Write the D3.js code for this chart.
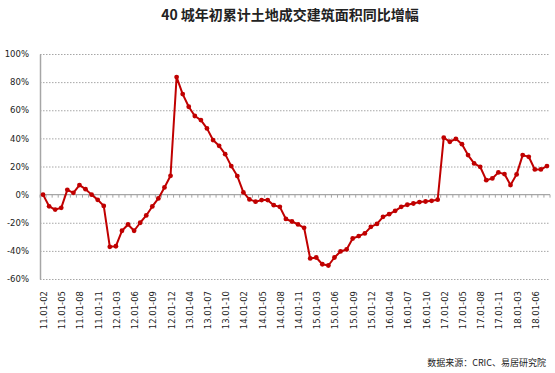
<!DOCTYPE html>
<html>
<head>
<meta charset="utf-8">
<script src="https://cdn.jsdelivr.net/npm/d3@7"></script>
<style>
  body { margin: 0; background: #fff; }
  svg { display: block; }
  .grid line { stroke: #a6a6a6; stroke-dasharray: 1.5 1.5; }
  text { font-family: "DejaVu Sans", Verdana, sans-serif; fill: #222; }
</style>
</head>
<body>
<svg id="svg" width="555" height="373"></svg>
<script>
// categories: 11 cumulative periods per year (01-02 .. 01-12), 2011 -> 2018.01-08
const years = ["11", "12", "13", "14", "15", "16", "17"];
const months = ["02", "03", "04", "05", "06", "07", "08", "09", "10", "11", "12"];
const lastYearMonths = ["02", "03", "04", "05", "06", "07", "08"];
const categories = years.flatMap(y => months.map(m => `${y}.01-${m}`))
  .concat(lastYearMonths.map(m => `18.01-${m}`));

// year-on-year change, %
const values = [
  0, -8.3, -10.6, -9.4, 3.4, 1.3, 6.8, 3.9, 0, -3.7, -8,
  -37.1, -36.7, -25.7, -21.2, -25.7, -20, -14.8, -8.4, -2.7, 5.1, 13.4,
  83.6, 71.5, 62.5, 55.9, 53, 47.1, 38.8, 34.7, 28.8, 20.3, 13.2,
  1.6, -3.4, -5, -3.9, -3.9, -7.5, -8.7, -17.3, -19.1, -21.2, -23.6,
  -45.4, -44.7, -49.5, -50.4, -44.7, -40.4, -39, -31.2, -29.5, -27.6, -22.9,
  -20.8, -15.8, -13.9, -11.5, -8.7, -7.2, -6.3, -5.3, -4.9, -4.4, -3.6,
  40.5, 37.6, 39.7, 35.9, 28.1, 22.2, 19.8, 10.3, 11.5, 15.8, 14.6,
  6.8, 14.4, 28.1, 26.9, 17.9, 17.9, 20.3
];

const yTicks = [-60, -40, -20, 0, 20, 40, 60, 80, 100];
const title = "40 城年初累计土地成交建筑面积同比增幅";
const source = "数据来源：CRIC、易居研究院";

const svg = d3.select("#svg");
const plotLeft = 40, plotRight = 550, plotTop = 54, plotBottom = 279;
const red = "#c00000";

const x = d3.scaleBand().domain(categories).range([plotLeft, plotRight]);
const y = d3.scaleLinear().domain([-60, 100]).range([plotBottom, plotTop]);
const cx = d => x(d) + x.bandwidth() / 2;

// title
svg.append("text")
  .attr("x", 290).attr("y", 20)
  .attr("text-anchor", "middle")
  .style("font-family", "'Noto Sans CJK SC', sans-serif")
  .style("font-size", "14px").style("font-weight", "bold")
  .text(title);

// grid lines
svg.append("g").attr("class", "grid")
  .selectAll("line").data(yTicks.filter(t => t !== 0)).enter().append("line")
  .attr("x1", plotLeft).attr("x2", plotRight)
  .attr("y1", d => y(d) + 0.5).attr("y2", d => y(d) + 0.5);

// y axis
const yAxis = svg.append("g")
  .attr("transform", `translate(${plotLeft},0)`)
  .call(d3.axisLeft(y).tickValues(yTicks).tickSize(0).tickPadding(11).tickFormat(d => d + "%"));
yAxis.select(".domain").attr("stroke", "#a6a6a6").attr("stroke-width", 1.5);
yAxis.selectAll("text").style("font-size", "8.5px").style("fill", "#222");

// zero line with ticks between categories
const zero = svg.append("g");
zero.append("line")
  .attr("x1", plotLeft).attr("x2", plotRight)
  .attr("y1", y(0)).attr("y2", y(0))
  .attr("stroke", "#a6a6a6").attr("stroke-width", 1.2);
zero.selectAll("line.tk").data(categories.concat(["end"])).enter().append("line")
  .attr("class", "tk")
  .attr("x1", (d, i) => plotLeft + i * x.step()).attr("x2", (d, i) => plotLeft + i * x.step())
  .attr("y1", y(0)).attr("y2", y(0) + 3)
  .attr("stroke", "#a6a6a6");

// x labels every 3rd category
svg.append("g").selectAll("text")
  .data(categories.filter((d, i) => i % 3 === 0)).enter().append("text")
  .attr("transform", d => `translate(${cx(d) + 1},291) rotate(-90)`)
  .attr("text-anchor", "end")
  .attr("dy", "0.35em")
  .style("font-size", "8.5px")
  .text(d => d);

// line + markers
const pts = categories.map((c, i) => ({ c, v: values[i] }));
svg.append("path")
  .datum(pts)
  .attr("fill", "none")
  .attr("stroke", red)
  .attr("stroke-width", 2)
  .attr("stroke-linejoin", "round")
  .attr("d", d3.line().x(d => cx(d.c)).y(d => y(d.v)));

svg.append("g").selectAll("circle").data(pts).enter().append("circle")
  .attr("cx", d => cx(d.c)).attr("cy", d => y(d.v))
  .attr("r", 2.4).attr("fill", red);

// source note
svg.append("text")
  .attr("x", 546).attr("y", 366)
  .attr("text-anchor", "end")
  .style("font-family", "'Noto Sans CJK SC', sans-serif")
  .style("font-size", "9px")
  .text(source);
</script>
</body>
</html>
